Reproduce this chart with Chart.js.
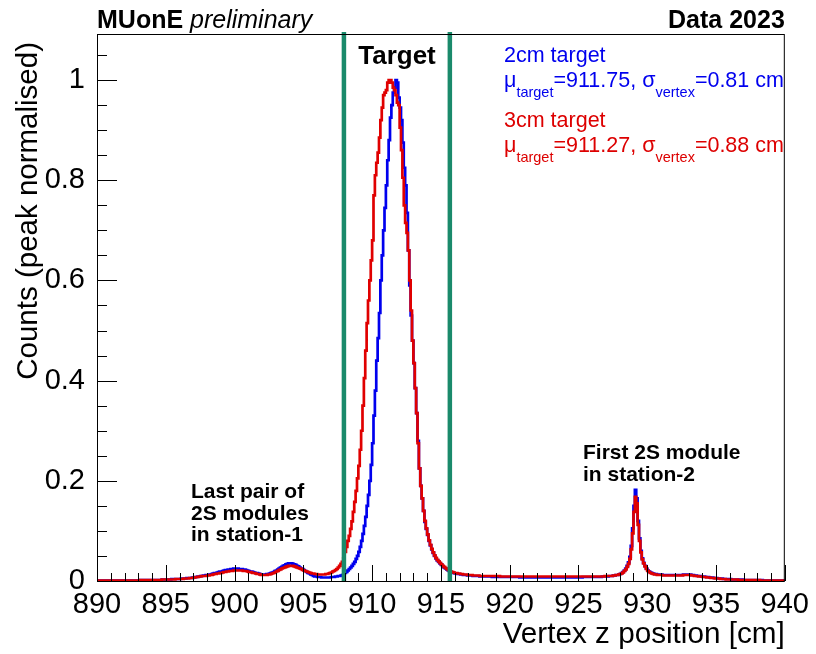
<!DOCTYPE html>
<html>
<head>
<meta charset="utf-8">
<script src="https://cdn.jsdelivr.net/npm/chart.js@4.4.1/dist/chart.umd.min.js"></script>
<style>
  html, body { margin: 0; padding: 0; background: #fff; }
  canvas { display: block; }
</style>
</head>
<body>
<canvas id="vertex-chart" width="816" height="654"></canvas>
<script>
// histogram binning (cm)
const binStart = 890;
const binWidth = 0.1;

// 2cm target, peak normalised, one value per 0.1 cm bin (20 per row = 2 cm)
const target2cm = [
  0.001, 0.001, 0.001, 0.001, 0.001, 0.001, 0.001, 0.001, 0.001, 0.001, 0.001, 0.001, 0.001, 0.001, 0.001, 0.001, 0.001, 0.001, 0.001, 0.001,
  0.001, 0.001, 0.001, 0.001, 0.001, 0.001, 0.001, 0.001, 0.001, 0.001, 0.001, 0.001, 0.002, 0.002, 0.002, 0.002, 0.002, 0.002, 0.002, 0.002,
  0.002, 0.002, 0.002, 0.002, 0.002, 0.002, 0.002, 0.002, 0.003, 0.003, 0.003, 0.003, 0.003, 0.003, 0.003, 0.004, 0.004, 0.004, 0.004, 0.004,
  0.004, 0.004, 0.005, 0.005, 0.005, 0.005, 0.006, 0.006, 0.006, 0.006, 0.007, 0.007, 0.008, 0.008, 0.009, 0.009, 0.010, 0.010, 0.011, 0.011,
  0.012, 0.012, 0.013, 0.013, 0.014, 0.015, 0.016, 0.016, 0.017, 0.018, 0.019, 0.019, 0.020, 0.021, 0.022, 0.022, 0.023, 0.023, 0.024, 0.024,
  0.025, 0.025, 0.025, 0.025, 0.024, 0.024, 0.024, 0.023, 0.023, 0.022, 0.021, 0.020, 0.019, 0.019, 0.018, 0.017, 0.016, 0.016, 0.015, 0.014,
  0.013, 0.013, 0.013, 0.013, 0.014, 0.014, 0.015, 0.016, 0.017, 0.018, 0.020, 0.021, 0.023, 0.025, 0.027, 0.028, 0.030, 0.031, 0.033, 0.034,
  0.035, 0.035, 0.035, 0.034, 0.033, 0.032, 0.030, 0.029, 0.027, 0.025, 0.024, 0.022, 0.020, 0.018, 0.016, 0.015, 0.013, 0.012, 0.010, 0.009,
  0.009, 0.008, 0.008, 0.008, 0.007, 0.007, 0.007, 0.007, 0.007, 0.007, 0.007, 0.008, 0.008, 0.008, 0.009, 0.009, 0.010, 0.010, 0.011, 0.012,
  0.014, 0.016, 0.018, 0.021, 0.024, 0.027, 0.030, 0.034, 0.038, 0.044, 0.050, 0.058, 0.068, 0.080, 0.094, 0.110, 0.128, 0.150, 0.172, 0.200,
  0.232, 0.275, 0.330, 0.380, 0.440, 0.485, 0.535, 0.600, 0.650, 0.700, 0.745, 0.790, 0.840, 0.880, 0.925, 0.950, 0.975, 0.985, 1.000, 0.995,
  0.965, 0.945, 0.920, 0.875, 0.825, 0.790, 0.735, 0.660, 0.590, 0.530, 0.480, 0.435, 0.385, 0.335, 0.280, 0.225, 0.190, 0.165, 0.140, 0.118,
  0.104, 0.092, 0.080, 0.071, 0.063, 0.056, 0.050, 0.045, 0.041, 0.038, 0.035, 0.032, 0.029, 0.027, 0.025, 0.023, 0.021, 0.019, 0.018, 0.017,
  0.016, 0.015, 0.015, 0.014, 0.014, 0.013, 0.013, 0.012, 0.012, 0.012, 0.011, 0.011, 0.011, 0.011, 0.010, 0.010, 0.010, 0.010, 0.010, 0.009,
  0.009, 0.009, 0.009, 0.009, 0.009, 0.009, 0.009, 0.009, 0.008, 0.008, 0.008, 0.008, 0.008, 0.008, 0.008, 0.008, 0.008, 0.008, 0.008, 0.008,
  0.008, 0.008, 0.008, 0.008, 0.008, 0.008, 0.008, 0.008, 0.007, 0.007, 0.007, 0.007, 0.007, 0.007, 0.007, 0.007, 0.007, 0.007, 0.007, 0.007,
  0.007, 0.007, 0.007, 0.007, 0.007, 0.007, 0.007, 0.007, 0.007, 0.007, 0.007, 0.007, 0.007, 0.007, 0.007, 0.007, 0.007, 0.007, 0.007, 0.007,
  0.007, 0.007, 0.007, 0.007, 0.007, 0.007, 0.007, 0.007, 0.007, 0.007, 0.007, 0.007, 0.007, 0.007, 0.008, 0.008, 0.008, 0.008, 0.008, 0.008,
  0.008, 0.008, 0.008, 0.008, 0.008, 0.008, 0.008, 0.008, 0.009, 0.009, 0.009, 0.009, 0.009, 0.010, 0.010, 0.010, 0.011, 0.011, 0.012, 0.012,
  0.013, 0.014, 0.016, 0.018, 0.021, 0.025, 0.030, 0.037, 0.048, 0.070, 0.105, 0.150, 0.182, 0.165, 0.120, 0.085, 0.060, 0.045, 0.036, 0.030,
  0.025, 0.021, 0.019, 0.017, 0.016, 0.015, 0.014, 0.014, 0.013, 0.013, 0.013, 0.013, 0.012, 0.012, 0.012, 0.012, 0.012, 0.012, 0.012, 0.012,
  0.012, 0.012, 0.012, 0.012, 0.012, 0.012, 0.012, 0.013, 0.013, 0.013, 0.013, 0.013, 0.013, 0.012, 0.012, 0.011, 0.011, 0.010, 0.010, 0.010,
  0.009, 0.009, 0.009, 0.008, 0.008, 0.008, 0.007, 0.007, 0.007, 0.006, 0.006, 0.006, 0.005, 0.005, 0.005, 0.005, 0.004, 0.004, 0.004, 0.004,
  0.004, 0.004, 0.003, 0.003, 0.003, 0.003, 0.003, 0.003, 0.003, 0.003, 0.003, 0.002, 0.002, 0.002, 0.002, 0.002, 0.002, 0.002, 0.002, 0.002,
  0.002, 0.002, 0.002, 0.002, 0.002, 0.001, 0.001, 0.001, 0.001, 0.001, 0.001, 0.001, 0.001, 0.001, 0.001, 0.001, 0.001, 0.001, 0.001, 0.001
];

// 3cm target, same binning
const target3cm = [
  0.001, 0.001, 0.001, 0.001, 0.001, 0.001, 0.001, 0.001, 0.001, 0.001, 0.001, 0.001, 0.001, 0.001, 0.001, 0.001, 0.001, 0.001, 0.001, 0.001,
  0.001, 0.001, 0.001, 0.001, 0.001, 0.001, 0.001, 0.001, 0.001, 0.001, 0.001, 0.001, 0.002, 0.002, 0.002, 0.002, 0.002, 0.002, 0.002, 0.002,
  0.002, 0.002, 0.002, 0.002, 0.002, 0.002, 0.002, 0.002, 0.003, 0.003, 0.003, 0.003, 0.003, 0.003, 0.003, 0.003, 0.003, 0.003, 0.004, 0.004,
  0.004, 0.004, 0.004, 0.004, 0.005, 0.005, 0.005, 0.005, 0.006, 0.006, 0.006, 0.007, 0.007, 0.008, 0.008, 0.009, 0.009, 0.010, 0.010, 0.010,
  0.010, 0.011, 0.011, 0.012, 0.012, 0.013, 0.014, 0.014, 0.015, 0.015, 0.016, 0.016, 0.017, 0.018, 0.018, 0.019, 0.019, 0.020, 0.020, 0.020,
  0.021, 0.021, 0.021, 0.021, 0.021, 0.021, 0.021, 0.020, 0.020, 0.020, 0.019, 0.018, 0.018, 0.017, 0.016, 0.016, 0.015, 0.014, 0.014, 0.013,
  0.012, 0.012, 0.012, 0.012, 0.012, 0.013, 0.013, 0.014, 0.015, 0.016, 0.017, 0.019, 0.020, 0.022, 0.023, 0.025, 0.026, 0.027, 0.028, 0.029,
  0.030, 0.030, 0.030, 0.030, 0.029, 0.028, 0.027, 0.026, 0.025, 0.024, 0.022, 0.021, 0.020, 0.019, 0.018, 0.017, 0.016, 0.015, 0.015, 0.014,
  0.014, 0.013, 0.013, 0.013, 0.013, 0.013, 0.013, 0.014, 0.014, 0.015, 0.016, 0.017, 0.019, 0.020, 0.022, 0.024, 0.027, 0.030, 0.034, 0.038,
  0.045, 0.058, 0.068, 0.080, 0.090, 0.104, 0.119, 0.138, 0.158, 0.180, 0.205, 0.230, 0.262, 0.300, 0.350, 0.405, 0.460, 0.515, 0.560, 0.600,
  0.640, 0.680, 0.770, 0.810, 0.835, 0.855, 0.885, 0.920, 0.945, 0.970, 0.975, 0.980, 0.995, 1.000, 1.000, 0.995, 0.985, 0.980, 0.970, 0.955,
  0.950, 0.905, 0.860, 0.805, 0.750, 0.715, 0.695, 0.660, 0.600, 0.540, 0.480, 0.435, 0.385, 0.335, 0.275, 0.225, 0.190, 0.165, 0.140, 0.120,
  0.105, 0.093, 0.081, 0.072, 0.064, 0.057, 0.051, 0.046, 0.042, 0.039, 0.036, 0.033, 0.030, 0.028, 0.026, 0.024, 0.022, 0.020, 0.019, 0.018,
  0.017, 0.016, 0.016, 0.015, 0.015, 0.014, 0.014, 0.013, 0.013, 0.013, 0.012, 0.012, 0.012, 0.012, 0.011, 0.011, 0.011, 0.011, 0.011, 0.010,
  0.010, 0.010, 0.010, 0.010, 0.010, 0.010, 0.010, 0.010, 0.010, 0.010, 0.010, 0.010, 0.010, 0.010, 0.009, 0.009, 0.009, 0.009, 0.009, 0.009,
  0.009, 0.009, 0.009, 0.009, 0.009, 0.009, 0.009, 0.009, 0.009, 0.009, 0.009, 0.009, 0.009, 0.009, 0.009, 0.009, 0.009, 0.009, 0.009, 0.009,
  0.009, 0.009, 0.009, 0.009, 0.009, 0.009, 0.009, 0.009, 0.009, 0.009, 0.009, 0.009, 0.009, 0.009, 0.009, 0.009, 0.009, 0.009, 0.009, 0.009,
  0.009, 0.009, 0.009, 0.009, 0.009, 0.009, 0.009, 0.009, 0.009, 0.009, 0.009, 0.009, 0.009, 0.009, 0.009, 0.009, 0.009, 0.009, 0.009, 0.009,
  0.009, 0.009, 0.009, 0.009, 0.009, 0.009, 0.009, 0.009, 0.009, 0.009, 0.010, 0.010, 0.010, 0.010, 0.010, 0.010, 0.011, 0.011, 0.012, 0.012,
  0.013, 0.014, 0.015, 0.017, 0.020, 0.023, 0.028, 0.034, 0.044, 0.063, 0.095, 0.138, 0.168, 0.155, 0.112, 0.080, 0.057, 0.043, 0.035, 0.029,
  0.024, 0.020, 0.018, 0.016, 0.015, 0.014, 0.013, 0.013, 0.012, 0.012, 0.012, 0.012, 0.011, 0.011, 0.011, 0.011, 0.011, 0.011, 0.011, 0.011,
  0.011, 0.011, 0.011, 0.011, 0.011, 0.011, 0.011, 0.012, 0.012, 0.012, 0.012, 0.012, 0.012, 0.011, 0.011, 0.010, 0.010, 0.010, 0.009, 0.009,
  0.009, 0.008, 0.008, 0.008, 0.007, 0.007, 0.007, 0.006, 0.006, 0.006, 0.005, 0.005, 0.005, 0.005, 0.004, 0.004, 0.004, 0.004, 0.003, 0.003,
  0.003, 0.003, 0.003, 0.003, 0.003, 0.003, 0.003, 0.002, 0.002, 0.002, 0.002, 0.002, 0.002, 0.002, 0.002, 0.002, 0.002, 0.002, 0.002, 0.002,
  0.002, 0.002, 0.002, 0.001, 0.001, 0.001, 0.001, 0.001, 0.001, 0.001, 0.001, 0.001, 0.001, 0.001, 0.001, 0.001, 0.001, 0.001, 0.001, 0.001
];

const xTicks = [890, 895, 900, 905, 910, 915, 920, 925, 930, 935, 940];
const yTicks = [0, 0.2, 0.4, 0.6, 0.8, 1];
const targetEdges = [907.95, 915.65];   // green lines, cm

const FONT = "'Liberation Sans', Arial, Helvetica, sans-serif";

function histPoints(values) {
  const pts = values.map((v, i) => ({ x: binStart + i * binWidth, y: v }));
  pts.push({ x: binStart + values.length * binWidth, y: values[values.length - 1] });
  return pts;
}

// text with subscripts, parts: [text, isSub]
function drawRich(ctx, x, y, parts, size, subSize) {
  let cx = x;
  parts.forEach(([t, sub]) => {
    ctx.font = (sub ? subSize : size) + 'px ' + FONT;
    ctx.fillText(t, cx, sub ? y + 10 : y);
    cx += ctx.measureText(t).width;
  });
}

const rootStyle = {
  id: 'rootStyle',
  afterDatasetsDraw(chart) {
    const { ctx, chartArea: a, scales: { x, y } } = chart;
    ctx.save();

    // target boundaries
    ctx.strokeStyle = '#1a8a6b';
    ctx.lineWidth = 4.5;
    targetEdges.forEach(v => {
      const px = x.getPixelForValue(v);
      ctx.beginPath();
      ctx.moveTo(px, a.top - 2);
      ctx.lineTo(px, a.bottom);
      ctx.stroke();
    });

    // frame + inward ticks
    ctx.strokeStyle = '#000';
    ctx.lineWidth = 1;
    ctx.strokeRect(a.left + 0.5, a.top + 0.5, a.right - a.left - 1, a.bottom - a.top);
    ctx.beginPath();
    for (let v = x.min; v <= x.max; v += 1) {
      const px = Math.round(x.getPixelForValue(v)) + 0.5;
      const len = (v % 5 === 0) ? 16 : 8;
      ctx.moveTo(px, a.bottom);
      ctx.lineTo(px, a.bottom - len);
    }
    for (let k = 0; k * 0.05 <= y.max; k++) {
      const py = Math.round(y.getPixelForValue(k * 0.05)) + 0.5;
      const len = (k % 4 === 0) ? 20 : 10;
      ctx.moveTo(a.left, py);
      ctx.lineTo(a.left + len, py);
    }
    ctx.stroke();
    ctx.restore();
  },
  afterDraw(chart) {
    const { ctx, chartArea: a } = chart;
    ctx.save();
    ctx.fillStyle = '#000';
    ctx.textBaseline = 'alphabetic';

    // header
    ctx.textAlign = 'left';
    ctx.font = 'bold 25px ' + FONT;
    ctx.fillText('MUonE', a.left, 28);
    const w = ctx.measureText('MUonE ').width;
    ctx.font = 'italic 25px ' + FONT;
    ctx.fillText('preliminary', a.left + w, 28);
    ctx.textAlign = 'right';
    ctx.font = 'bold 25px ' + FONT;
    ctx.fillText('Data 2023', a.right, 28);

    // y title
    ctx.save();
    ctx.translate(37, 42);
    ctx.rotate(-Math.PI / 2);
    ctx.textAlign = 'right';
    ctx.font = '29.5px ' + FONT;
    ctx.fillText('Counts (peak normalised)', 0, 0);
    ctx.restore();

    // region labels
    ctx.textAlign = 'center';
    ctx.font = 'bold 26px ' + FONT;
    ctx.fillText('Target', 397, 64);

    ctx.textAlign = 'left';
    ctx.font = 'bold 21px ' + FONT;
    ctx.fillText('Last pair of', 191, 498);
    ctx.fillText('2S modules', 191, 520);
    ctx.fillText('in station-1', 191, 541);
    ctx.fillText('First 2S module', 583, 459);
    ctx.fillText('in station-2', 583, 481);

    // legend text
    ctx.fillStyle = '#0000ee';
    ctx.font = '21.5px ' + FONT;
    ctx.fillText('2cm target', 504, 62);
    drawRich(ctx, 504, 87, [['\u03bc'], ['target', true], ['=911.75, \u03c3'], ['vertex', true], ['=0.81 cm']], 21.5, 14.5);
    ctx.fillStyle = '#dd0000';
    ctx.font = '21.5px ' + FONT;
    ctx.fillText('3cm target', 504, 127);
    drawRich(ctx, 504, 152, [['\u03bc'], ['target', true], ['=911.27, \u03c3'], ['vertex', true], ['=0.88 cm']], 21.5, 14.5);

    ctx.restore();
  }
};

new Chart(document.getElementById('vertex-chart'), {
  type: 'line',
  data: {
    datasets: [
      {
        label: '3cm target',
        data: histPoints(target3cm),
        borderColor: '#e00000',
        borderWidth: 2.7,
        stepped: 'after',
        pointRadius: 0,
        fill: false,
        order: 0
      },
      {
        label: '2cm target',
        data: histPoints(target2cm),
        borderColor: '#0000ee',
        borderWidth: 2.7,
        stepped: 'after',
        pointRadius: 0,
        fill: false,
        order: 1
      }
    ]
  },
  options: {
    responsive: false,
    animation: false,
    events: [],
    layout: { padding: { top: 34, right: 30, bottom: 0, left: 0 } },
    plugins: {
      legend: { display: false },
      tooltip: { enabled: false }
    },
    scales: {
      x: {
        type: 'linear',
        min: 890,
        max: 940,
        grid: { display: false, drawTicks: false },
        border: { display: false },
        afterBuildTicks: scale => { scale.ticks = xTicks.map(v => ({ value: v })); },
        afterFit: scale => { scale.height = 73; },
        ticks: {
          color: '#000',
          padding: 7,
          maxRotation: 0,
          autoSkip: false,
          font: { family: FONT, size: 29 },
          callback: v => String(v)
        },
        title: {
          display: true,
          text: 'Vertex z position [cm]',
          align: 'end',
          color: '#000',
          padding: { top: 0, bottom: 1 },
          font: { family: FONT, size: 29.7 }
        }
      },
      y: {
        type: 'linear',
        min: 0,
        max: 1.092,
        grid: { display: false, drawTicks: false },
        border: { display: false },
        afterBuildTicks: scale => { scale.ticks = yTicks.map(v => ({ value: v })); },
        afterFit: scale => { scale.width = 97; },
        ticks: {
          color: '#000',
          padding: 12,
          font: { family: FONT, size: 29 },
          callback: v => String(Number(v.toFixed(2)))
        }
      }
    }
  },
  plugins: [rootStyle]
});
</script>
</body>
</html>
